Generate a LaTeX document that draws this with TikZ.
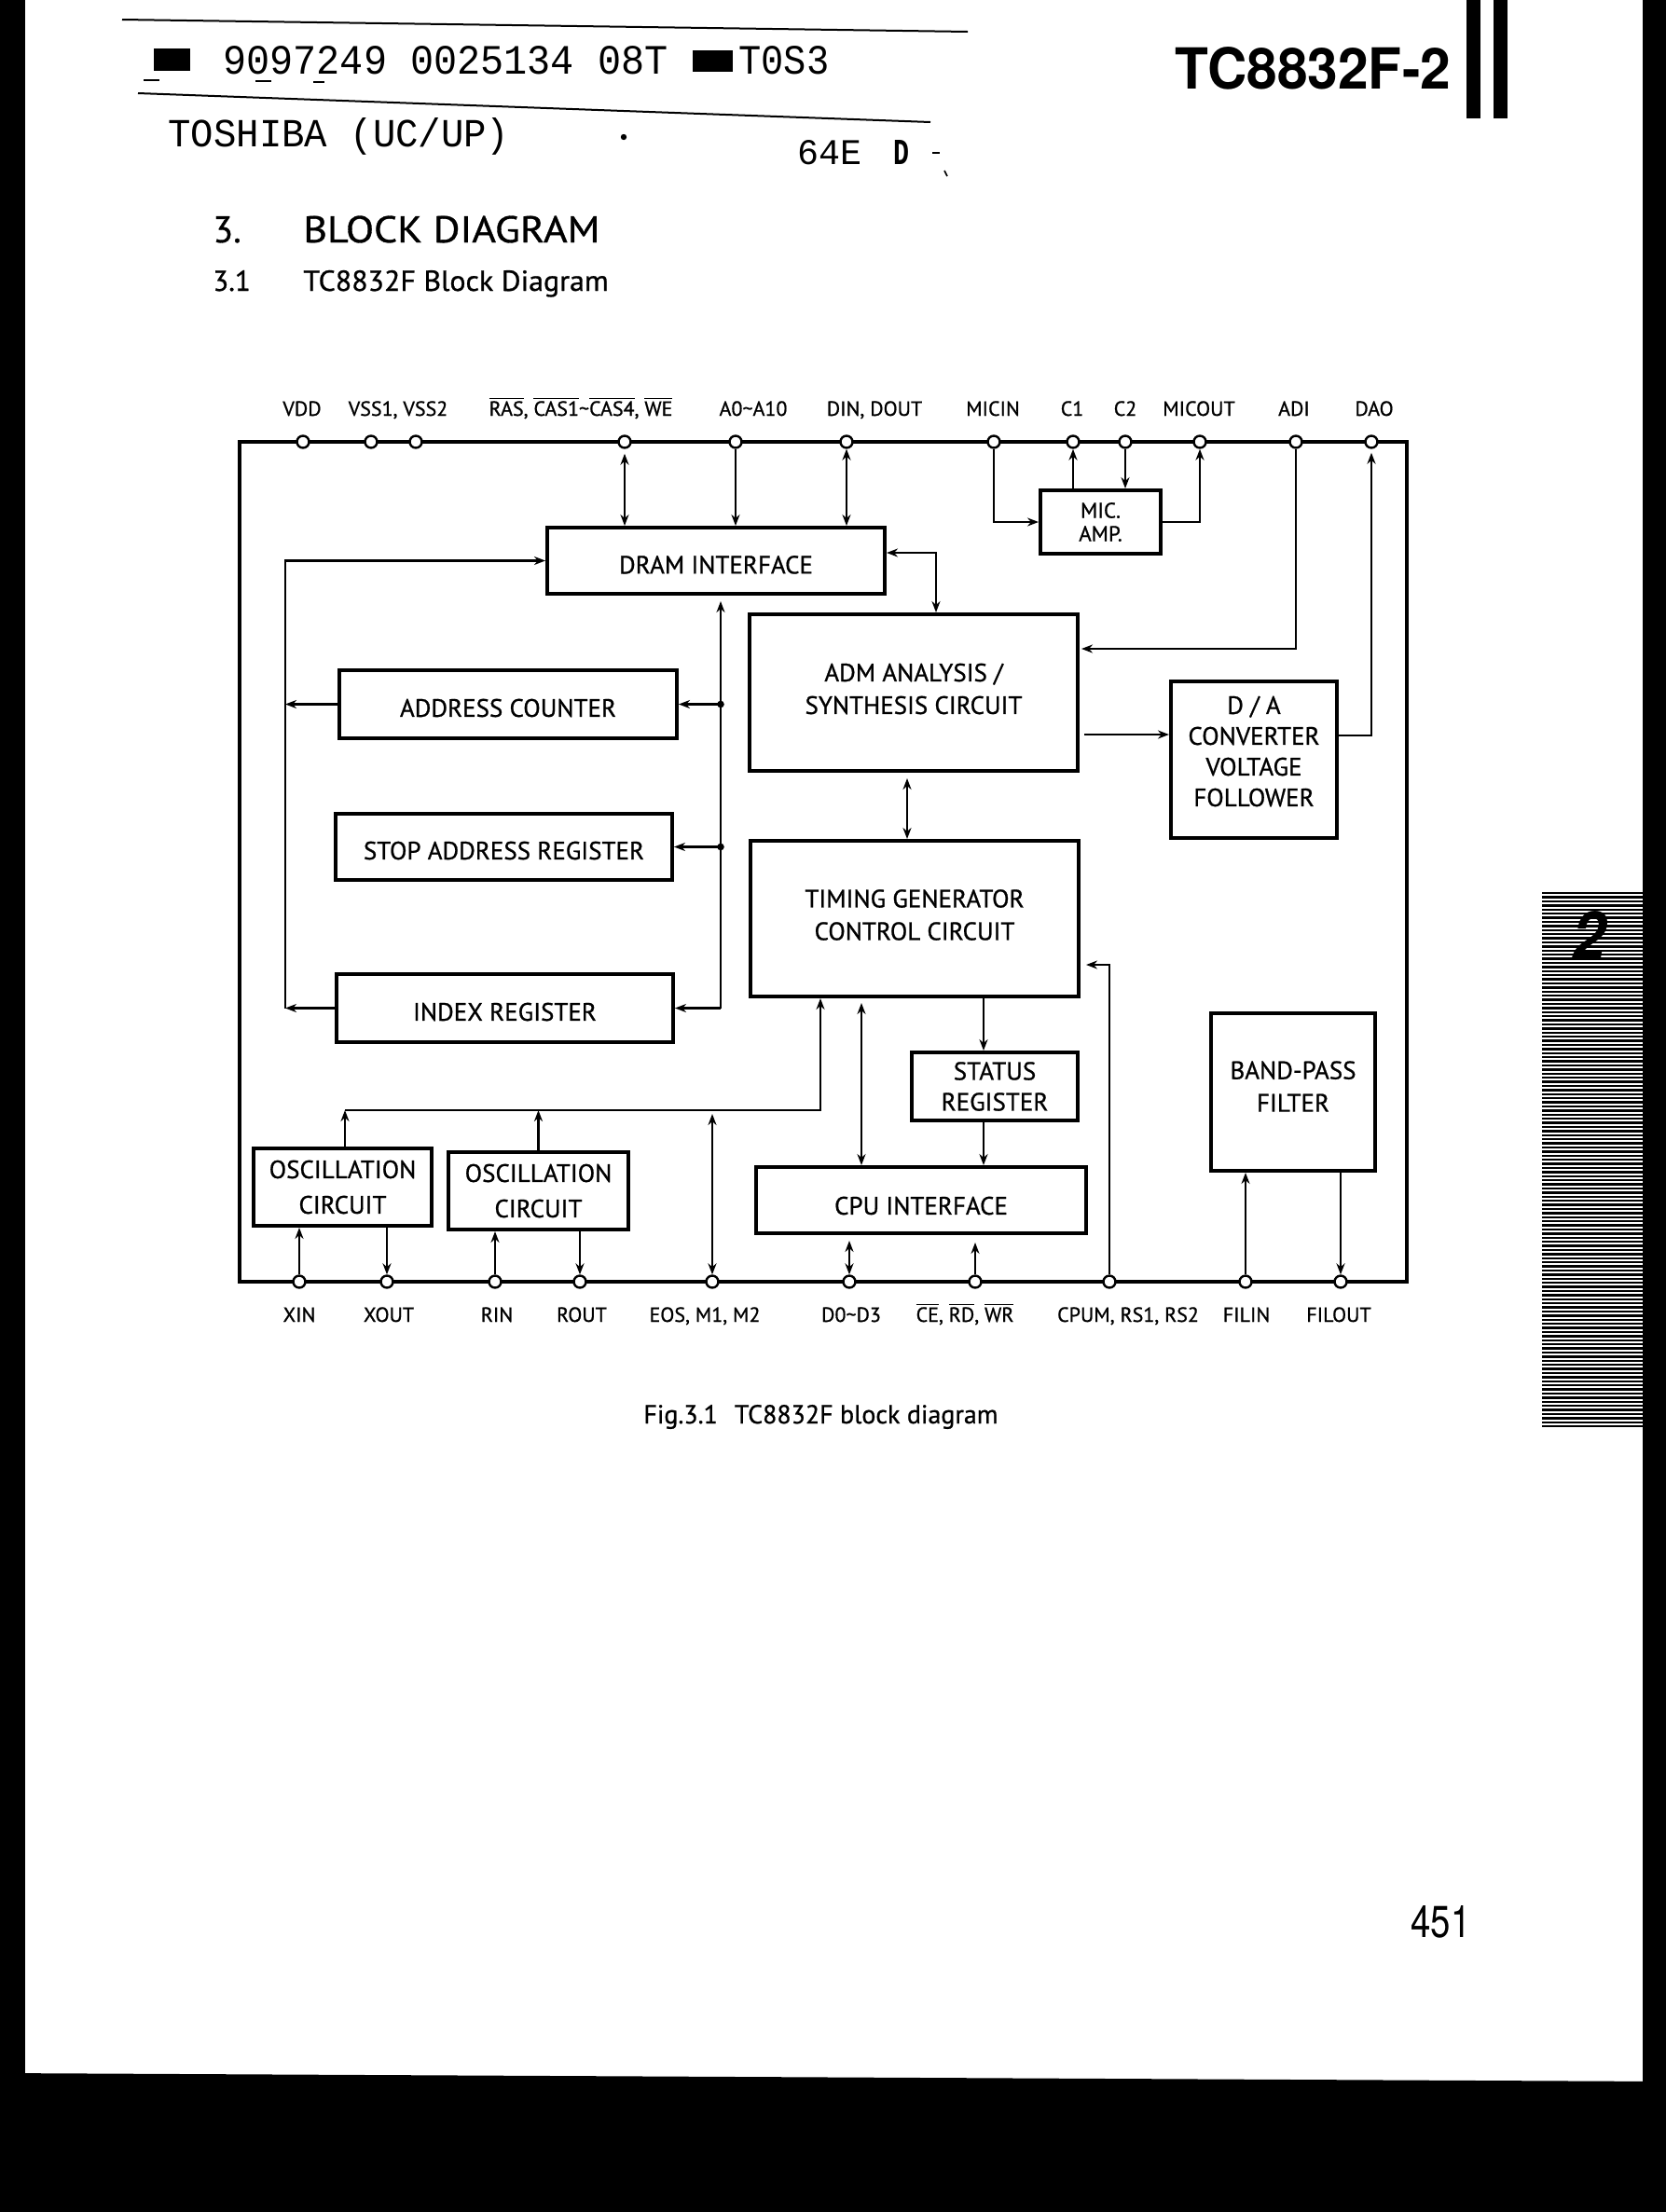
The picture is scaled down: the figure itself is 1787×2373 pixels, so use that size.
\documentclass[tikz,border=0pt]{standalone}
\usepackage{fontspec}
\usepackage{graphicx}
\setmainfont{PT Sans}[FakeBold=0.8]
\newfontfamily\hfont{TeX Gyre Heros}
\newfontfamily\tfont{Liberation Mono}
\usetikzlibrary{arrows.meta}
\newcommand{\ovl}[1]{$\overline{\hbox{#1}}$}
\begin{document}
\begin{tikzpicture}[x=0.5pt,y=-0.5pt,
  blk/.style={draw, line width=2pt, inner sep=0pt},
  btext/.style={font=\fontsize{13.5}{17.5}\selectfont, align=center, inner sep=0pt},
  pinc/.style={circle, draw, fill=white, line width=1.2pt, minimum size=6.5pt, inner sep=0pt},
  plabel/.style={font=\fontsize{11}{13}\selectfont, inner sep=0pt, anchor=base},
  arr/.style={line width=1.4pt, -{Stealth[length=6pt,width=4.5pt]}},
  dbl/.style={line width=1.4pt, {Stealth[length=6pt,width=4.5pt]}-{Stealth[length=6pt,width=4.5pt]}},
  chipframe/.style={line width=2.3pt},
  jdot/.style={circle, fill, inner sep=0pt, minimum size=3.8pt},
  txt/.style={inner sep=0pt, anchor=base west}
]
% page
\fill[white] (0,0) rectangle (1787,2373);
\useasboundingbox (0,0) rectangle (1787,2373);
\fill[black] (0,0) rectangle (27,2373);
\fill[black] (1762,0) rectangle (1787,2373);
\fill[black] (0,2224) -- (1787,2233) -- (1787,2373) -- (0,2373) -- cycle;

% side tab
\foreach \i in {0,...,130} { \fill[black] (1654,957+4.4*\i) rectangle (1762,959.4+4.4*\i); }
\node[txt] (tabnum) at (1686,1030) {\resizebox{18pt}{26.5pt}{\hfont\bfseries\itshape 2}};

% header
\draw[line width=1pt] (131,21) -- (1038,34);
\draw[line width=1pt] (148,100) -- (998,131);
\draw[line width=0.8pt] (154,86) -- (171,86) (274,87) -- (291,87) (336,88) -- (348,88);
\fill[black] (165,52) rectangle (204,76);
\node[txt] (hcode) at (239,79) {\resizebox{238.5pt}{15pt}{\tfont 9097249 0025134 08T}};
\fill[black] (743,54) rectangle (786,77);
\node[txt] (hcode2) at (792,79) {\resizebox{48.5pt}{15pt}{\tfont T0S3}};
\node[txt] (htosh) at (180,157) {\resizebox{183pt}{15.5pt}{\tfont TOSHIBA (UC/UP)}};
\fill[black] (669,147) circle (1.6pt);
\node[txt] (h64) at (855,176) {\resizebox{34.5pt}{13pt}{\tfont 64E}};
\node[txt] (hD) at (958,176) {\resizebox{8.5pt}{13pt}{\tfont\bfseries D}};
\draw[line width=1pt] (1000,164) -- (1008,164);
\draw[line width=0.8pt] (1013,183) -- (1016,189);
\node[txt] (htitle) at (1260,95) {\resizebox{148pt}{22.5pt}{\hfont\bfseries TC8832F-2}};
\fill[black] (1573,0) rectangle (1588,127);
\fill[black] (1602,0) rectangle (1617,127);

% headings
\node[txt, font=\fontsize{20}{24}\selectfont] (s3) at (228,260) {3.};
\node[txt, font=\fontsize{20}{24}\selectfont] (s3t) at (325,260) {\scalebox{1.1}[1]{BLOCK DIAGRAM}};
\node[txt, font=\fontsize{15.5}{18}\selectfont] (s31) at (228,312) {3.1};
\node[txt, font=\fontsize{15.5}{18}\selectfont] (s31t) at (325,312) {\scalebox{1.03}[1]{TC8832F Block Diagram}};

% caption and page number
\node[txt, font=\fontsize{14}{16}\selectfont] (cap) at (690,1527) {Fig.3.1\hspace{9pt}TC8832F block diagram};
\node[txt] (pgno) at (1513,2078) {\resizebox{32pt}{17pt}{\hfont 451}};

% chip frame
\draw[chipframe] (257,474) rectangle (1509,1375);

% pins
\foreach \n/\x in {VDD/325, VSSa/398, VSSb/446, RAS/670, A/789, DIN/908, MICIN/1066, Ca/1151, Cb/1207, MICOUT/1287, ADI/1390, DAO/1471}
  \node[pinc] (p\n) at (\x,474) {};
\foreach \n/\x in {XIN/321, XOUT/415, RIN/531, ROUT/622, EOS/764, D/911, CE/1046, CPUM/1190, FILIN/1336, FILOUT/1438}
  \node[pinc] (p\n) at (\x,1375) {};

% pin labels
\node[plabel] (lVDD) at (324,446) {VDD};
\node[plabel] (lVSS) at (427,446) {VSS1, VSS2};
\node[plabel] (lRAS) at (623,446) {\ovl{RAS}, \ovl{CAS1}\textasciitilde\ovl{CAS4}, \ovl{WE}};
\node[plabel] (lA) at (808,446) {A0\textasciitilde A10};
\node[plabel] (lDIN) at (938,446) {DIN, DOUT};
\node[plabel] (lMICIN) at (1065,446) {MICIN};
\node[plabel] (lC1) at (1150,446) {C1};
\node[plabel] (lC2) at (1207,446) {C2};
\node[plabel] (lMICOUT) at (1286,446) {MICOUT};
\node[plabel] (lADI) at (1388,446) {ADI};
\node[plabel] (lDAO) at (1474,446) {DAO};
\node[plabel] (lXIN) at (321,1418) {XIN};
\node[plabel] (lXOUT) at (417,1418) {XOUT};
\node[plabel] (lRIN) at (533,1418) {RIN};
\node[plabel] (lROUT) at (624,1418) {ROUT};
\node[plabel] (lEOS) at (756,1418) {EOS, M1, M2};
\node[plabel] (lD) at (913,1418) {D0\textasciitilde D3};
\node[plabel] (lCE) at (1035,1418) {\ovl{CE}, \ovl{RD}, \ovl{WR}};
\node[plabel] (lCPUM) at (1210,1418) {CPUM, RS1, RS2};
\node[plabel] (lFILIN) at (1337,1418) {FILIN};
\node[plabel] (lFILOUT) at (1436,1418) {FILOUT};

% blocks
\node[blk, minimum width=181pt, minimum height=35.5pt,
  label={[btext, name=dramT, yshift=-2.2pt]center:DRAM INTERFACE}] (dram) at (768,601.5) {};
\node[blk, minimum width=64.5pt, minimum height=34pt,
  label={[btext, name=micT, font=\fontsize{11.5}{12.5}\selectfont]center:{MIC.\\AMP.}}] (mic) at (1180.5,560) {};
\node[blk, minimum width=176pt, minimum height=84pt,
  label={[btext, name=admT, yshift=2pt]center:{ADM ANALYSIS /\\SYNTHESIS CIRCUIT}}] (adm) at (980,743) {};
\node[blk, minimum width=89pt, minimum height=84pt,
  label={[btext, name=daT, yshift=4.5pt, font=\fontsize{13.5}{16.5}\selectfont]center:{D / A\\CONVERTER\\VOLTAGE\\FOLLOWER}}] (da) at (1345,815) {};
\node[blk, minimum width=181pt, minimum height=36.5pt,
  label={[btext, name=addrT, yshift=-2pt]center:ADDRESS COUNTER}] (addr) at (545,755.5) {};
\node[blk, minimum width=180.5pt, minimum height=35.5pt,
  label={[btext, name=stopT, yshift=-2pt]center:STOP ADDRESS REGISTER}] (stop) at (540.5,908.5) {};
\node[blk, minimum width=180.5pt, minimum height=36.5pt,
  label={[btext, name=indexT, yshift=-2pt]center:INDEX REGISTER}] (index) at (541.5,1081.5) {};
\node[blk, minimum width=176pt, minimum height=83.5pt,
  label={[btext, name=timingT, yshift=2pt]center:{TIMING GENERATOR\\CONTROL CIRCUIT}}] (timing) at (981,985.5) {};
\node[blk, minimum width=89pt, minimum height=36.5pt,
  label={[btext, name=statusT, font=\fontsize{13.5}{16.5}\selectfont]center:{STATUS\\REGISTER}}] (status) at (1067,1165.5) {};
\node[blk, minimum width=177pt, minimum height=35.5pt,
  label={[btext, name=cpuT, yshift=-3pt]center:CPU INTERFACE}] (cpu) at (988,1287.5) {};
\node[blk, minimum width=88pt, minimum height=84.5pt,
  label={[btext, name=bpfT, yshift=3pt]center:{BAND-PASS\\FILTER}}] (bpf) at (1387,1171.5) {};
\node[blk, minimum width=95.5pt, minimum height=41.5pt,
  label={[btext, name=osc1T, font=\fontsize{13.5}{19}\selectfont]center:{OSCILLATION\\CIRCUIT}}] (osc1) at (367.5,1273.5) {};
\node[blk, minimum width=96.5pt, minimum height=41.5pt,
  label={[btext, name=osc2T, font=\fontsize{13.5}{19}\selectfont]center:{OSCILLATION\\CIRCUIT}}] (osc2) at (577.5,1277.5) {};

% DRAM connections
\draw[dbl, shorten <=2.5pt] (pRAS.south) -- (pRAS.south |- dram.north);
\draw[arr] (pA.south) -- (pA.south |- dram.north);
\draw[dbl] (pDIN.south) -- (pDIN.south |- dram.north);

% left loop
\coordinate (lb) at (306,1081.5);
\draw[arr] (lb) -- (lb |- dram.west) -- (dram.west);
\draw[arr] (index.west) -- (lb);
\draw[arr] (addr.west) -- (addr.west -| lb);

% right bus
\coordinate (bb) at (773,1081.5);
\draw[arr, shorten >=3pt] (bb) -- (bb |- dram.south);
\draw[arr] (bb) -- (index.east);
\draw[arr] (addr.east -| bb) -- (addr.east);
\draw[arr] (stop.east -| bb) -- (stop.east);
\node[jdot] (j1) at (addr.east -| bb) {};
\node[jdot] (j2) at (stop.east -| bb) {};

% DRAM - ADM
\coordinate (dj) at (1004,593);
\draw[dbl] (dram.east |- dj) -- (dj) -- (dj |- adm.north);

% ADI, D/A, DAO
\coordinate (adij) at (1390,696);
\draw[arr, shorten >=1pt] (pADI.south) -- (adij) -- (adm.east |- adij);
\draw[arr, shorten <=2.5pt] (adm.east |- 0,788) -- (da.west |- 0,788);
\coordinate (daj) at (1471,789);
\draw[arr, shorten >=2pt] (da.east |- daj) -- (daj) -- (pDAO.south);

% MIC AMP
\draw[arr] (pMICIN.south) -- (pMICIN.south |- mic.west) -- (mic.west);
\draw[arr] (mic.north -| pCa) -- (pCa.south);
\draw[arr] (pCb.south) -- (pCb.south |- mic.north);
\draw[arr] (mic.east) -- (mic.east -| pMICOUT) -- (pMICOUT.south);

% ADM - TIMING
\draw[dbl, shorten <=3pt] (adm.south -| 973,0) -- (timing.north -| 973,0);

% oscillators to timing
\coordinate (hl) at (370,1191);
\coordinate (hr) at (880,1191);
\draw[arr] (hl) -- (hr) -- (hr |- timing.south);
\draw[arr] (osc1.north -| hl) -- (hl);
\draw[arr] (osc2.north) -- (osc2.north |- hl);
\draw[dbl, shorten >=2pt] (pEOS.north) -- (pEOS.north |- hl);

% timing, status, cpu
\draw[dbl, shorten <=2.5pt] (timing.south -| 924,0) -- (cpu.north -| 924,0);
\draw[arr] (timing.south -| 1055,0) -- (status.north -| 1055,0);
\draw[arr] (status.south -| 1055,0) -- (cpu.north -| 1055,0);
\draw[dbl, shorten >=3pt] (pD.north) -- (pD.north |- cpu.south);
\draw[arr, shorten >=4pt] (pCE.north) -- (pCE.north |- cpu.south);
\coordinate (cj) at (1190,1035);
\draw[arr, shorten >=3pt] (pCPUM.north) -- (cj) -- (timing.east |- cj);

% filter
\draw[arr] (pFILIN.north) -- (pFILIN.north |- bpf.south);
\draw[arr] (pFILOUT.north |- bpf.south) -- (pFILOUT.north);

% oscillator pins
\draw[arr] (pXIN.north) -- (pXIN.north |- osc1.south);
\draw[arr] (pXOUT.north |- osc1.south) -- (pXOUT.north);
\draw[arr] (pRIN.north) -- (pRIN.north |- osc2.south);
\draw[arr] (pROUT.north |- osc2.south) -- (pROUT.north);
\end{tikzpicture}
\end{document}
